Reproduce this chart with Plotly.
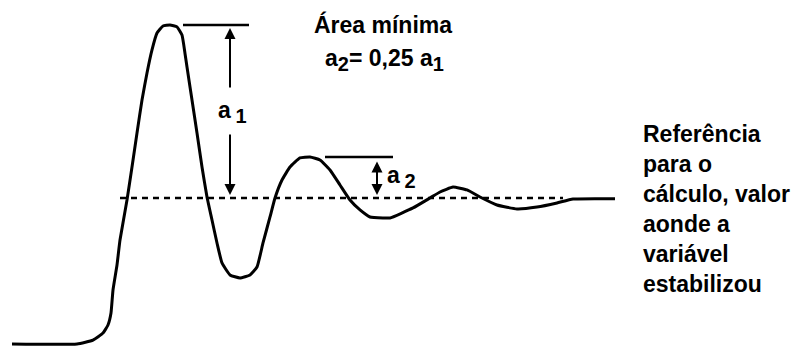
import plotly.graph_objects as go

# Step response of an underdamped loop (time in s, value normalised to the settled level = 1)
tempo = [0.0, 6.5, 8.1, 9.1, 9.6, 9.9, 10.1, 10.5, 10.8, 11.5, 12.0, 12.5, 13.0, 13.5, 14.0,
         14.5, 15.1, 15.8, 16.5, 17.0, 17.3, 17.5, 18.0, 18.5, 19.0, 19.5, 20.0, 20.5, 21.0,
         21.8, 22.8, 23.8, 24.5, 25.1, 25.8, 26.3, 27.0, 27.8, 28.8, 29.8, 30.8, 31.8, 32.8,
         33.8, 34.8, 35.8, 37.1, 37.8, 40.1, 41.8, 42.8, 44.1, 45.5, 46.8, 48.5, 50.5, 52.5,
         54.5, 56.1, 60.3]
valor = [0.0, 0.0, 0.027, 0.075, 0.130, 0.212, 0.370, 0.541, 0.712, 0.986, 1.212, 1.445, 1.671,
         1.856, 2.014, 2.130, 2.178, 2.185, 2.172, 2.116, 1.990, 1.897, 1.671, 1.445, 1.212,
         1.007, 0.849, 0.692, 0.555, 0.473, 0.452, 0.473, 0.527, 0.692, 0.870, 1.0, 1.123,
         1.212, 1.274, 1.281, 1.260, 1.192, 1.089, 0.986, 0.918, 0.870, 0.863, 0.863, 0.932,
         1.0, 1.041, 1.075, 1.055, 1.007, 0.952, 0.925, 0.938, 0.966, 0.993, 0.995]

referencia = 1.0
pico1 = max(valor)                      # first overshoot peak
pico2 = max(valor[tempo.index(27.0):tempo.index(33.8)])  # second peak


def sub(txt):
    """Subscript slightly larger than plotly's default 70 %."""
    return f"<sub><span style='font-size:20px'>{txt}</span></sub>"


texto_titulo = "Área mínima"
texto_relacao = f"a{sub('2')}= 0,25 a{sub('1')}"
texto_ref = ["Referência", "para o", "cálculo, valor", "aonde a", "variável", "estabilizou"]

FONTE = dict(family="Arial, Liberation Sans, sans-serif", size=23, color="black", weight="bold")

fig = go.Figure()
fig.add_trace(go.Scatter(
    x=tempo, y=valor, mode="lines",
    line=dict(color="black", width=3, shape="spline", smoothing=0.4),
    hoverinfo="skip", showlegend=False,
))

# Settled-value reference (dashed)
fig.add_shape(type="line", x0=10.8, x1=55.1, y0=referencia, y1=referencia,
              line=dict(color="black", width=2.5, dash="6px,5px"))
# Peak marker lines
fig.add_shape(type="line", x0=17.1, x1=23.7, y0=pico1, y1=pico1,
              line=dict(color="black", width=2.5))
fig.add_shape(type="line", x0=31.3, x1=38.1, y0=pico2, y1=pico2,
              line=dict(color="black", width=2.5))

seta = dict(showarrow=True, arrowhead=2, arrowsize=1.1, arrowwidth=2, arrowcolor="black",
            axref="x", ayref="y", text="", standoff=0, startstandoff=0)
# a1 arrows (up and down from the label)
fig.add_annotation(x=21.8, y=pico1 - 0.02, ax=21.8, ay=1.747, **seta)
fig.add_annotation(x=21.8, y=referencia + 0.02, ax=21.8, ay=1.445, **seta)
# a2 double-headed arrow
fig.add_annotation(x=36.5, y=referencia + 0.02, ax=36.5, ay=pico2 - 0.02,
                   arrowside="end+start", **seta)

fig.add_annotation(x=22.0, y=1.589, text=f"a\u2009{sub('1')}", showarrow=False, font=FONTE)
fig.add_annotation(x=37.3, y=1.144, text=f"a\u2009{sub('2')}", showarrow=False, font=FONTE,
                   xanchor="left")
fig.add_annotation(x=37.1, y=2.185, text=texto_titulo, showarrow=False, font=FONTE)
fig.add_annotation(x=37.2, y=1.945, text=texto_relacao, showarrow=False, font=FONTE)
fig.add_annotation(x=62.9, y=0.928, text="<br>".join(texto_ref), showarrow=False,
                   font=FONTE, xanchor="left", align="left")

fig.update_layout(
    width=796, height=346,
    margin=dict(l=0, r=0, t=0, b=0),
    paper_bgcolor="white", plot_bgcolor="white",
    xaxis=dict(range=[-1.2, 78.4], visible=False),
    yaxis=dict(range=[-0.0137, 2.356], visible=False),
)
fig.write_html("out.html")
